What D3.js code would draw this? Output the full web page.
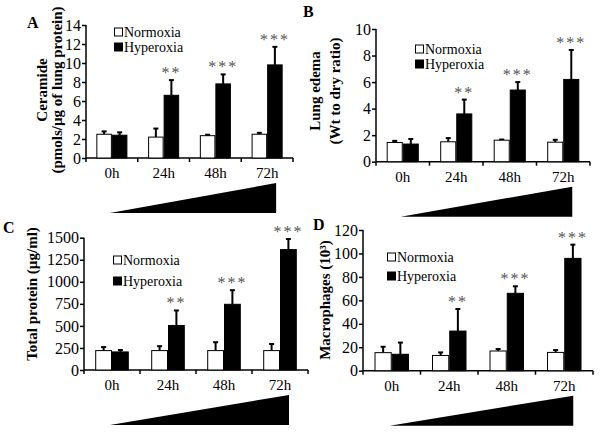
<!DOCTYPE html>
<html>
<head>
<meta charset="utf-8">
<script src="https://cdn.jsdelivr.net/npm/d3@7"></script>
<style>
html,body{margin:0;padding:0;background:#fff;}
svg{display:block;}
text{font-family:"Liberation Serif","Times New Roman",serif;}
</style>
</head>
<body>
<svg id="chart" width="601" height="437"></svg>
<script>
// ---------- Data ----------
const categories = ["0h", "24h", "48h", "72h"];
const seriesNames = ["Normoxia", "Hyperoxia"];
const stars = ["", "**", "***", "***"];

// Panel A: Ceramide
const ceramideNormoxia = [2.5, 2.2, 2.35, 2.5];
const ceramideNormoxiaErr = [0.3, 0.9, 0.1, 0.15];
const ceramideHyperoxia = [2.4, 6.6, 7.8, 9.8];
const ceramideHyperoxiaErr = [0.3, 1.6, 1.0, 1.9];
const ceramideTicks = [0, 2, 4, 6, 8, 10, 12, 14];

// Panel B: Lung edema
const edemaNormoxia = [1.45, 1.5, 1.62, 1.47];
const edemaNormoxiaErr = [0.12, 0.28, 0.05, 0.18];
const edemaHyperoxia = [1.33, 3.6, 5.4, 6.2];
const edemaHyperoxiaErr = [0.38, 1.08, 0.6, 2.22];
const edemaTicks = [0, 2, 4, 6, 8, 10];

// Panel C: Total protein
const proteinNormoxia = [220, 220, 220, 220];
const proteinNormoxiaErr = [40, 50, 95, 75];
const proteinHyperoxia = [205, 505, 745, 1365];
const proteinHyperoxiaErr = [22, 170, 160, 120];
const proteinTicks = [0, 250, 500, 750, 1000, 1250, 1500];

// Panel D: Macrophages
const macroNormoxia = [15.4, 13, 16.8, 15.6];
const macroNormoxiaErr = [5, 2.6, 1.7, 2];
const macroHyperoxia = [14, 33.8, 66, 95.8];
const macroHyperoxiaErr = [10, 18.8, 6, 11.7];
const macroTicks = [0, 20, 40, 60, 80, 100, 120];

// ---------- Layout ----------
const panels = [
  { letter: "A", lx: 27, ly: 28, x0: 86, x1: 293, yTop: 25, yBot: 158,
    ticks: ceramideTicks, n: ceramideNormoxia, nErr: ceramideNormoxiaErr,
    h: ceramideHyperoxia, hErr: ceramideHyperoxiaErr,
    ylab: [{t: "Ceramide", x: 42}, {t: "(pmols/\u00b5g of lung protein)", x: 57}], ylabY: 90,
    leg: {x: 114, y: 32, gap: 15} },
  { letter: "B", lx: 303, ly: 17, x0: 376, x1: 590, yTop: 29, yBot: 161.7,
    ticks: edemaTicks, n: edemaNormoxia, nErr: edemaNormoxiaErr,
    h: edemaHyperoxia, hErr: edemaHyperoxiaErr,
    ylab: [{t: "Lung edema", x: 315}, {t: "(Wt to dry ratio)", x: 335}], ylabY: 91,
    leg: {x: 415, y: 49, gap: 15} },
  { letter: "C", lx: 3, ly: 233, x0: 84, x1: 308, yTop: 237.7, yBot: 370,
    ticks: proteinTicks, n: proteinNormoxia, nErr: proteinNormoxiaErr,
    h: proteinHyperoxia, hErr: proteinHyperoxiaErr,
    ylab: [{t: "Total protein (\u00b5g/ml)", x: 32}], ylabY: 294,
    leg: {x: 113, y: 260, gap: 21} },
  { letter: "D", lx: 313, ly: 230, x0: 363, x1: 593, yTop: 230, yBot: 370.7,
    ticks: macroTicks, n: macroNormoxia, nErr: macroNormoxiaErr,
    h: macroHyperoxia, hErr: macroHyperoxiaErr,
    ylab: [{t: "Macrophages (10\u00b3)", x: 325}], ylabY: 300,
    leg: {x: 387, y: 257, gap: 19} }
];

const svg = d3.select("#chart");

panels.forEach(p => {
  const g = svg.append("g");
  const tmax = p.ticks[p.ticks.length - 1];
  const y = d3.scaleLinear().domain([0, tmax]).range([p.yBot, p.yTop]);
  const x = d3.scaleBand().domain(categories).range([p.x0, p.x1])
    .paddingInner(0.4).paddingOuter(0.2);
  const xs = d3.scaleBand().domain(seriesNames).range([0, x.bandwidth()]);

  // Panel letter
  g.append("text").attr("x", p.lx).attr("y", p.ly)
    .attr("font-size", 16).attr("font-weight", "bold").text(p.letter);

  // Y axis
  const yAxis = d3.axisLeft(y).tickValues(p.ticks).tickSize(4).tickPadding(1)
    .tickFormat(d3.format("d"));
  const ya = g.append("g").attr("transform", `translate(${p.x0},0)`).call(yAxis);
  ya.select(".domain").attr("stroke", "#000").attr("stroke-width", 1.5)
    .attr("d", `M0,${p.yTop}V${p.yBot}`);
  ya.selectAll(".tick line").attr("stroke-width", 1.5);
  ya.selectAll(".tick text").attr("font-size", 16)
    .attr("font-family", "'Liberation Serif','Times New Roman',serif").attr("fill", "#000");

  // X axis line with ticks at band boundaries
  g.append("line").attr("x1", p.x0).attr("x2", p.x1)
    .attr("y1", p.yBot).attr("y2", p.yBot).attr("stroke", "#000").attr("stroke-width", 1.5);
  const bounds = d3.range(categories.length + 1).map(i => p.x0 + i * (p.x1 - p.x0) / categories.length);
  g.selectAll(".xt").data(bounds).join("line")
    .attr("x1", d => d).attr("x2", d => d)
    .attr("y1", p.yBot).attr("y2", p.yBot + 4)
    .attr("stroke", "#000").attr("stroke-width", 1.5);

  // Category labels
  g.selectAll(".cl").data(categories).join("text")
    .attr("x", d => x(d) + x.bandwidth() / 2).attr("y", p.yBot + 20)
    .attr("text-anchor", "middle").attr("font-size", 15).text(d => d);

  // Bars
  const rows = categories.map((c, i) => ({
    c, i,
    vals: [
      {s: "Normoxia", v: p.n[i], e: p.nErr[i]},
      {s: "Hyperoxia", v: p.h[i], e: p.hErr[i]}
    ]
  }));
  rows.forEach(r => {
    r.vals.forEach(d => {
      const bx = x(r.c) + xs(d.s);
      const cx = bx + xs.bandwidth() / 2;
      g.append("line").attr("x1", cx).attr("x2", cx)
        .attr("y1", y(d.v)).attr("y2", y(d.v + d.e))
        .attr("stroke", "#000").attr("stroke-width", 2);
      g.append("line").attr("x1", cx - 2.5).attr("x2", cx + 2.5)
        .attr("y1", y(d.v + d.e)).attr("y2", y(d.v + d.e))
        .attr("stroke", "#000").attr("stroke-width", 2);
      g.append("rect").attr("x", bx + 0.5).attr("y", y(d.v))
        .attr("width", xs.bandwidth() - 1).attr("height", p.yBot - y(d.v))
        .attr("fill", d.s === "Normoxia" ? "#fff" : "#000")
        .attr("stroke", "#000").attr("stroke-width", 1);
    });
    if (stars[r.i]) {
      const hv = r.vals[1];
      const cx = x(r.c) + xs("Hyperoxia") + xs.bandwidth() / 2;
      g.append("text").attr("x", cx).attr("y", y(hv.v + hv.e) - 2)
        .attr("text-anchor", "middle").attr("font-size", 16)
        .attr("fill", "#555").attr("letter-spacing", 2).text(stars[r.i]);
    }
  });

  // Y label(s)
  p.ylab.forEach(l => {
    g.append("text")
      .attr("transform", `translate(${l.x},${p.ylabY}) rotate(-90)`)
      .attr("dy", "0.35em").attr("text-anchor", "middle")
      .attr("font-size", 15).attr("font-weight", "bold").text(l.t);
  });

  // Legend
  seriesNames.forEach((s, i) => {
    const ly = p.leg.y + i * p.leg.gap;
    g.append("rect").attr("x", p.leg.x + 0.5).attr("y", ly - 4)
      .attr("width", 8).attr("height", 8)
      .attr("fill", i === 0 ? "#fff" : "#000").attr("stroke", "#000").attr("stroke-width", 1);
    g.append("text").attr("x", p.leg.x + 10).attr("y", ly + 5)
      .attr("font-size", 14).text(s);
  });

  // Time wedge
  const left = x(categories[0]) + x.bandwidth() / 2 - 2;
  const right = x(categories[categories.length - 1]) + x.bandwidth() / 2 + 9;
  g.append("path")
    .attr("d", `M${left},${p.yBot + 55}L${right},${p.yBot + 25}L${right},${p.yBot + 55}Z`)
    .attr("fill", "#000");
});
</script>
</body>
</html>
